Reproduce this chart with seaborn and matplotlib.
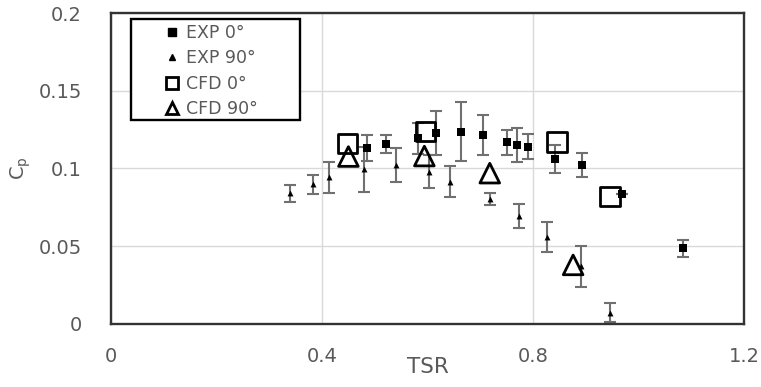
import matplotlib
matplotlib.use("Agg")
import matplotlib.pyplot as plt
from matplotlib.lines import Line2D
from matplotlib.patches import Rectangle
import pandas as pd
import seaborn as sns

# Experimental data, 0 degree
exp0_tsr = [0.486, 0.521, 0.581, 0.617, 0.664, 0.706, 0.750, 0.770, 0.791, 0.842, 0.892, 0.969, 1.084]
exp0_cp = [0.1130, 0.1158, 0.1194, 0.1230, 0.1237, 0.1215, 0.1168, 0.1151, 0.1140, 0.1059, 0.1023, 0.0836, 0.0487]
exp0_err = [0.0083, 0.0057, 0.0100, 0.0140, 0.0188, 0.0130, 0.0078, 0.0107, 0.0080, 0.0090, 0.0077, 0.0, 0.0055]

# Experimental data, 90 degree
exp90_tsr = [0.339, 0.382, 0.413, 0.480, 0.541, 0.603, 0.643, 0.718, 0.774, 0.826, 0.891, 0.945]
exp90_cp = [0.0842, 0.0898, 0.0943, 0.0995, 0.1023, 0.0980, 0.0915, 0.0805, 0.0695, 0.0557, 0.0370, 0.0073]
exp90_err = [0.0055, 0.0060, 0.0100, 0.0145, 0.0110, 0.0106, 0.0099, 0.0040, 0.0077, 0.0097, 0.0130, 0.0060]

# CFD results
cfd0_tsr = [0.448, 0.596, 0.846, 0.946]
cfd0_cp = [0.1160, 0.1237, 0.1170, 0.0820]
cfd90_tsr = [0.450, 0.594, 0.718, 0.876]
cfd90_cp = [0.1077, 0.1080, 0.0970, 0.0380]

labels = ["EXP 0°", "EXP 90°", "CFD 0°", "CFD 90°"]
x_ticks = [0, 0.4, 0.8, 1.2]
x_tick_labels = ["0", "0.4", "0.8", "1.2"]
y_ticks = [0, 0.05, 0.1, 0.15, 0.2]
y_tick_labels = ["0", "0.05", "0.1", "0.15", "0.2"]

sns.set_theme(style="white")
plt.rcParams["font.family"] = ["DejaVu Sans"]
plt.rcParams["mathtext.fontset"] = "dejavusans"
text_color = "#595959"

fig = plt.figure(figsize=(7.61, 3.87), dpi=100)
ax = fig.add_axes([0.1459, 0.1628, 0.9777 - 0.1459, 0.9664 - 0.1628])

# Error bars for the measurements
err_kw = dict(fmt="none", ecolor="#707070", elinewidth=1.5, capsize=4.5, capthick=1.5, zorder=2)
ax.errorbar(exp0_tsr, exp0_cp, yerr=exp0_err, **err_kw)
ax.errorbar(exp90_tsr, exp90_cp, yerr=exp90_err, **err_kw)

df_exp0 = pd.DataFrame({"TSR": exp0_tsr, "Cp": exp0_cp})
df_exp90 = pd.DataFrame({"TSR": exp90_tsr, "Cp": exp90_cp})
df_cfd0 = pd.DataFrame({"TSR": cfd0_tsr, "Cp": cfd0_cp})
df_cfd90 = pd.DataFrame({"TSR": cfd90_tsr, "Cp": cfd90_cp})

sns.scatterplot(data=df_exp0, x="TSR", y="Cp", marker="s", s=40, color="black",
                edgecolor="black", linewidth=0, ax=ax, zorder=3, legend=False)
sns.scatterplot(data=df_exp90, x="TSR", y="Cp", marker="^", s=18, color="black",
                edgecolor="black", linewidth=0, ax=ax, zorder=3, legend=False)
sns.scatterplot(data=df_cfd0, x="TSR", y="Cp", marker="s", s=200, facecolor="none",
                edgecolor="black", linewidth=2, ax=ax, zorder=4, legend=False)
sns.scatterplot(data=df_cfd90, x="TSR", y="Cp", marker="^", s=200, facecolor="none",
                edgecolor="black", linewidth=2, ax=ax, zorder=4, legend=False)

ax.set_xlim(0, 1.2)
ax.set_ylim(0, 0.2)
ax.set_xticks(x_ticks)
ax.set_xticklabels(x_tick_labels)
ax.set_yticks(y_ticks)
ax.set_yticklabels(y_tick_labels)
ax.tick_params(axis="x", length=0, pad=16.5, labelsize=14, labelcolor=text_color)
ax.tick_params(axis="y", length=0, pad=21, labelsize=14, labelcolor=text_color)

ax.grid(True, color="#d9d9d9", linewidth=1)
ax.set_axisbelow(True)
for sp in ax.spines.values():
    sp.set_color("#333333")
    sp.set_linewidth(1.7)

ax.set_xlabel("TSR", fontsize=15.5, color=text_color)
ax.xaxis.set_label_coords(0.5, -0.106)
ax.set_ylabel(r"C$_\mathregular{p}$", fontsize=14, color=text_color, rotation=90)
ax.yaxis.set_label_coords(-0.123, 0.5)

# Legend: entries without frame, plus a plain rectangular box around them
handles = [
    Line2D([], [], linestyle="none", marker="s", markersize=6, color="black"),
    Line2D([], [], linestyle="none", marker="^", markersize=4.5, color="black"),
    Line2D([], [], linestyle="none", marker="s", markersize=8, markerfacecolor="none",
           markeredgecolor="black", markeredgewidth=2),
    Line2D([], [], linestyle="none", marker="^", markersize=8, markerfacecolor="none",
           markeredgecolor="black", markeredgewidth=2),
]
leg = ax.legend(handles, labels, loc="upper left", bbox_to_anchor=(0.0821, 0.964),
                borderaxespad=0, borderpad=0, frameon=False, fontsize=12.5,
                labelcolor=text_color, handlelength=1.0, handletextpad=0.35,
                labelspacing=0.415)
ax.add_patch(Rectangle((0.0316, 0.656), 0.267, 0.325, transform=ax.transAxes,
                       facecolor="white", edgecolor="black", linewidth=1.7, zorder=5))
leg.set_zorder(6)

fig.savefig("out.png", dpi=100)
